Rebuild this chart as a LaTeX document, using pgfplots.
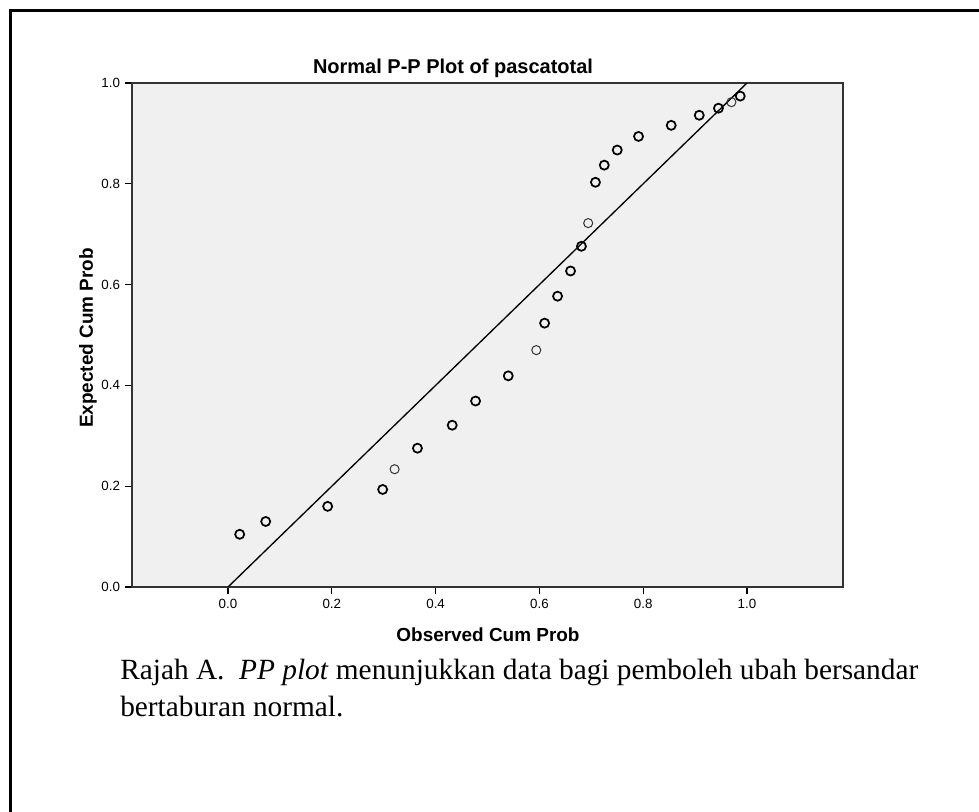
\documentclass[border=0pt]{standalone}
\usepackage{fontspec}
\setmainfont{Liberation Sans}
\newfontfamily\capfont{Liberation Serif}
\usepackage{pgfplots}
\pgfplotsset{compat=1.18}
\definecolor{plotbg}{RGB}{240,240,240}

\begin{document}
\begin{tikzpicture}[x=0.75pt,y=-0.75pt]
\path[use as bounding box] (0,0) rectangle (979,812);
\draw[line width=1.6pt] (10.5,812) -- (10.5,10.5) -- (979,10.5);
\coordinate (SW) at (132,587);
\begin{axis}[
  at={(SW)}, anchor=south west,
  scale only axis, width=533.25pt, height=378pt,
  xmin=-0.185, xmax=1.185, ymin=0, ymax=1,
  xtick={0,0.2,...,1.0}, ytick={0,0.2,...,1.0},
  axis background/.style={fill=plotbg},
  axis line style={draw=black!80, line width=1pt},
  tick pos=left, tick align=outside,
  major tick length=5.5pt,
  tick style={black, line width=1pt},
  xticklabel={\pgfmathprintnumber[fixed,fixed zerofill,precision=1,assume math mode=true]{\tick}},
  yticklabel={\pgfmathprintnumber[fixed,fixed zerofill,precision=1,assume math mode=true]{\tick}},
  tick label style={font=\fontsize{10}{12}\selectfont},
  title={Normal P-P Plot of pascatotal},
  title style={font=\bfseries\fontsize{15}{17}\selectfont, at={(0.4515,1)}, anchor=base, yshift=0.8pt},
  xlabel={Observed Cum Prob},
  xlabel style={font=\bfseries\fontsize{14.2}{16}\selectfont, at={(axis description cs:0.5007,0)}, anchor=base, yshift=-40.5pt},
  ylabel={Expected Cum Prob},
  ylabel style={font=\bfseries\fontsize{14.2}{16}\selectfont, at={(axis description cs:-0.055,0.494)}, anchor=base, rotate=0},
]
\addplot[black, line width=1pt] coordinates {(0,0)(1,1)};
\addplot[only marks, mark=o, mark size=3.4pt, mark options={line width=1.3pt, draw=black}] coordinates {
(0.0225,0.1046)(0.0726,0.130)(0.192,0.160)(0.298,0.1935)(0.365,0.2754)
(0.432,0.321)(0.477,0.369)(0.540,0.419)(0.610,0.5235)(0.635,0.577)
(0.660,0.627)(0.681,0.676)(0.708,0.803)(0.725,0.837)(0.750,0.867)
(0.791,0.894)(0.854,0.916)(0.908,0.936)(0.945,0.950)(0.987,0.974)};
\addplot[only marks, mark=o, mark size=3.4pt, mark options={line width=0.75pt, draw=black!80}] coordinates {
(0.321,0.2337)(0.594,0.470)(0.694,0.722)(0.970,0.962)};
\end{axis}
\node[anchor=base west, font=\capfont\fontsize{22}{27.75}\selectfont, inner sep=0pt] at (120,680)
  {Rajah A.\ \ \textit{PP plot} menunjukkan data bagi pemboleh ubah bersandar};
\node[anchor=base west, font=\capfont\fontsize{22}{27.75}\selectfont, inner sep=0pt] at (120,717)
  {bertaburan normal.};
\end{tikzpicture}
\end{document}
